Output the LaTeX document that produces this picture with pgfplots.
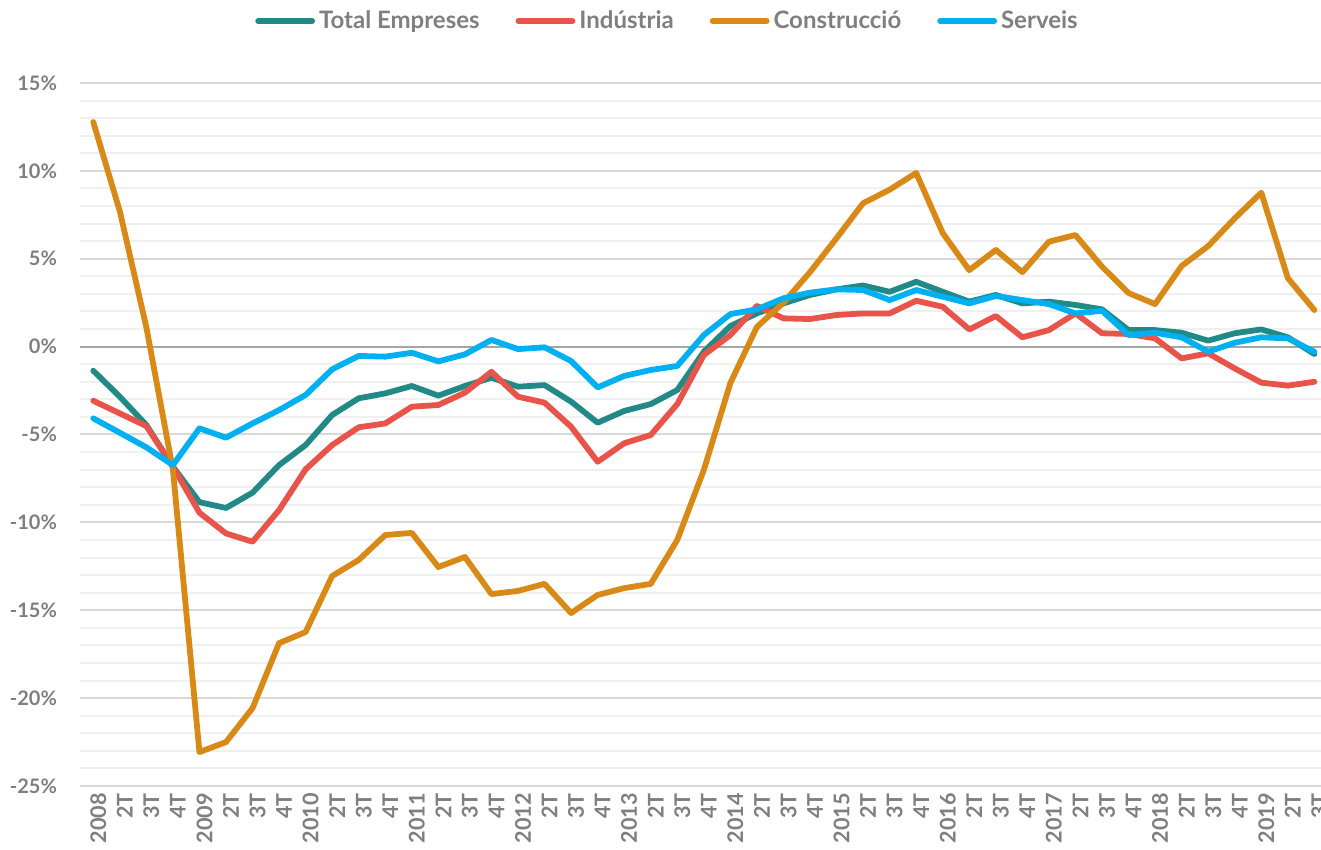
\documentclass[border=0pt]{standalone}
\usepackage{fontspec}
\setmainfont{Lato}
\usepackage{pgfplots}
\usepackage{pgfplotstable}
\pgfplotsset{compat=1.18}

\definecolor{cTotal}{HTML}{218A87}
\definecolor{cInd}{HTML}{E8534A}
\definecolor{cCons}{HTML}{D98A16}
\definecolor{cServ}{HTML}{00B0F0}
\definecolor{txt}{HTML}{7F7F7F}
\definecolor{gmaj}{HTML}{D9D9D9}
\definecolor{gmin}{HTML}{F0F0F0}

% idx  total  industria  construccio  serveis  (%)
\pgfplotstableread{
idx total ind cons serv
0 -1.37 -3.08 12.78 -4.08
1 -2.85 -3.80 7.70 -4.90
2 -4.46 -4.52 1.10 -5.73
3 -6.83 -6.83 -7.00 -6.74
4 -8.85 -9.45 -23.07 -4.65
5 -9.18 -10.63 -22.50 -5.18
6 -8.31 -11.10 -20.57 -4.37
7 -6.74 -9.30 -16.87 -3.61
8 -5.60 -6.98 -16.24 -2.75
9 -3.89 -5.60 -13.05 -1.29
10 -2.94 -4.59 -12.14 -0.53
11 -2.66 -4.37 -10.72 -0.57
12 -2.24 -3.42 -10.60 -0.35
13 -2.79 -3.32 -12.54 -0.84
14 -2.24 -2.62 -11.97 -0.44
15 -1.77 -1.43 -14.08 0.38
16 -2.28 -2.85 -13.90 -0.14
17 -2.19 -3.19 -13.50 -0.04
18 -3.13 -4.56 -15.16 -0.82
19 -4.33 -6.55 -14.13 -2.32
20 -3.66 -5.50 -13.74 -1.67
21 -3.27 -5.03 -13.50 -1.33
22 -2.47 -3.27 -11.00 -1.10
23 -0.29 -0.48 -7.02 0.66
24 1.17 0.66 -2.07 1.85
25 1.89 2.31 1.12 2.12
26 2.46 1.61 2.50 2.75
27 2.94 1.57 4.24 3.07
28 3.26 1.80 6.17 3.26
29 3.48 1.89 8.16 3.22
30 3.12 1.89 8.93 2.65
31 3.69 2.61 9.88 3.22
32 3.12 2.27 6.46 2.84
33 2.56 0.98 4.35 2.46
34 2.94 1.74 5.50 2.88
35 2.46 0.53 4.24 2.65
36 2.56 0.94 5.97 2.42
37 2.37 1.89 6.35 1.89
38 2.12 0.76 4.55 2.04
39 0.94 0.72 3.05 0.66
40 0.94 0.47 2.42 0.79
41 0.79 -0.67 4.59 0.53
42 0.34 -0.38 5.72 -0.29
43 0.76 -1.24 7.30 0.22
44 0.98 -2.05 8.76 0.53
45 0.53 -2.22 3.90 0.47
46 -0.42 -2.00 2.08 -0.29
}\data

\begin{document}
\begin{tikzpicture}
\begin{axis}[
    scale only axis,
    width=620.5pt, height=351.5pt,
    xmin=-0.5, xmax=46.25,
    ymin=-25, ymax=15,
    axis line style={draw=none},
    major tick length=0pt, minor tick length=0pt,
    xtick={0,...,46},
    xticklabels={2008,2T,3T,4T,2009,2T,3T,4T,2010,2T,3T,4T,2011,2T,3T,4T,
                 2012,2T,3T,4T,2013,2T,3T,4T,2014,2T,3T,4T,2015,2T,3T,4T,
                 2016,2T,3T,4T,2017,2T,3T,4T,2018,2T,3T,4T,2019,2T,3T},
    xticklabel style={rotate=90, anchor=east, yshift=-2.5pt,
        font=\fontsize{10.8}{12}\selectfont\bfseries, text=txt},
    ytick={-25,-20,...,15},
    yticklabels={-25\%,-20\%,-15\%,-10\%,-5\%,0\%,5\%,10\%,15\%},
    yticklabel style={xshift=-8pt,
        font=\fontsize{10}{12}\selectfont\bfseries, text=txt},
    minor y tick num=4,
    ymajorgrids, yminorgrids,
    major grid style={draw=gmaj, line width=1pt},
    minor grid style={draw=gmin, line width=1pt},
    extra y ticks={0},
    extra y tick labels={},
    extra y tick style={major grid style={draw=black!35, line width=1pt}},
    legend columns=4,
    legend style={at={(0.5,1)}, anchor=center, yshift=31pt, xshift=-16pt,
        draw=none, fill=none,
        font=\fontsize{12}{14}\selectfont\bfseries, text=txt,
        /tikz/every even column/.append style={column sep=16pt}},
    legend image code/.code={\draw[#1, line cap=round] (0pt,0pt) -- (27pt,0pt);},
    every axis plot/.append style={line width=2.9pt, line join=round, line cap=round, mark=none},
]
\addplot[cTotal] table[x=idx, y=total] {\data};
\addplot[cInd]   table[x=idx, y=ind]   {\data};
\addplot[cCons]  table[x=idx, y=cons]  {\data};
\addplot[cServ]  table[x=idx, y=serv]  {\data};
\legend{Total Empreses, Indústria, Construcció, Serveis}
\end{axis}
\pgfresetboundingbox
\path (-40pt,-32pt) rectangle (620.5pt,393pt);
\end{tikzpicture}
\end{document}
